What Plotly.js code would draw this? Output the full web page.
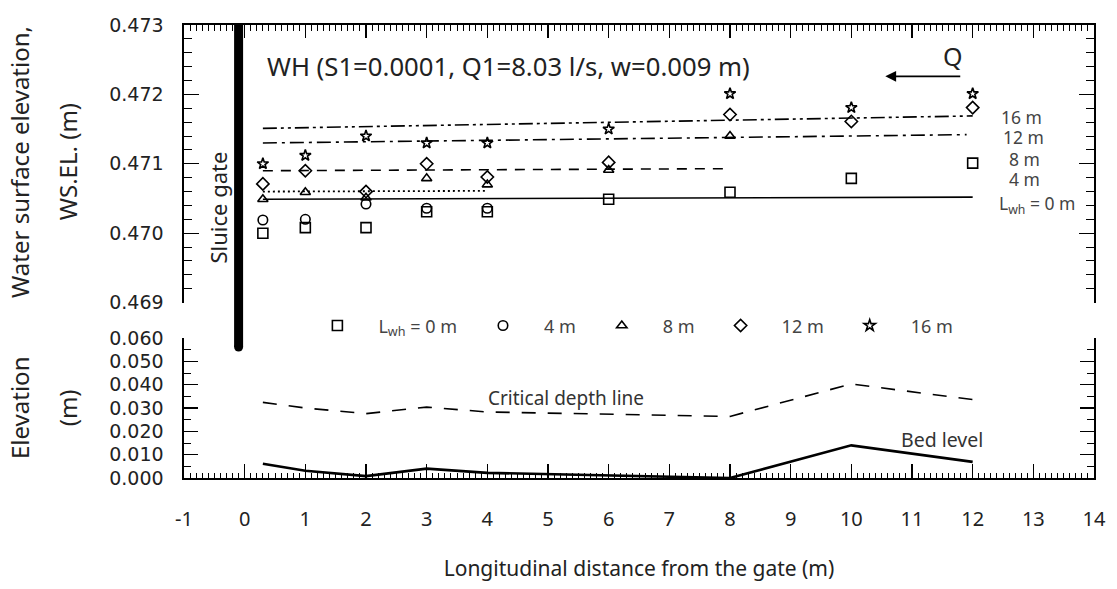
<!DOCTYPE html>
<html>
<head>
<meta charset="utf-8">
<script src="https://cdn.plot.ly/plotly-3.0.1.min.js"></script>
<style>html,body{margin:0;padding:0;background:#fff;}#chart{width:1117px;height:589px;}</style>
</head>
<body>
<div id="chart"></div>
<script>
// ---- Data ----
const xAll = [0.3, 1, 2, 3, 4, 6, 8, 10, 12];
const x4 = [0.3, 1, 2, 3, 4];
const x8 = [0.3, 1, 2, 3, 4, 6, 8];
const ws0 = [0.47000, 0.47008, 0.47008, 0.47031, 0.47031, 0.47049, 0.47059, 0.47079, 0.47101];
const ws4 = [0.47019, 0.47020, 0.47042, 0.47036, 0.47036];
const ws8 = [0.47049, 0.47059, 0.47051, 0.47079, 0.47070, 0.47091, 0.47140];
const ws12 = [0.47071, 0.47090, 0.47060, 0.47100, 0.47081, 0.47102, 0.47171, 0.47161, 0.47181];
const ws16 = [0.47100, 0.47112, 0.47140, 0.47130, 0.47130, 0.47150, 0.47201, 0.47181, 0.47201];

// trend lines (start / end)
const trend0X = [0.3, 12],  trend0Y = [0.47049, 0.47052];
const trend4X = [0.3, 4],   trend4Y = [0.47060, 0.47061];
const trend8X = [0.3, 8],   trend8Y = [0.47090, 0.47093];
const trend12X = [0.3, 11.9], trend12Y = [0.47130, 0.47142];
const trend16X = [0.3, 12], trend16Y = [0.47151, 0.47169];

// bottom panel
const bedX = [0.3, 1, 2, 3, 4, 6, 8, 10, 12];
const bedLevel = [0.0061, 0.0031, 0.0008, 0.0040, 0.0022, 0.0012, 0.0000, 0.0140, 0.0069];
const critDepth = [0.0324, 0.0300, 0.0276, 0.0304, 0.0283, 0.0274, 0.0264, 0.0403, 0.0336];

const seriesNames = ['L<sub>wh</sub> = 0 m', '4 m', '8 m', '12 m', '16 m'];
const rightLabels = ['16 m', '12 m', '8 m', '4 m', 'L<sub>wh</sub> = 0 m'];
const xTicks = [-1,0,1,2,3,4,5,6,7,8,9,10,11,12,13,14];

// ---- Styling ----
const FONT = 'Noto Sans, Open Sans, sans-serif';
const TICKFONT = 'DejaVu Sans, sans-serif';
const black = '#000';
const mk = (sym, size) => ({symbol: sym, size: size, color: black, line: {color: black, width: 1.6}});

const traces = [
  {x: trend0X, y: trend0Y, xaxis: 'x2', yaxis: 'y2', mode: 'lines', line: {color: black, width: 1.6}, showlegend: false, hoverinfo: 'skip'},
  {x: trend4X, y: trend4Y, xaxis: 'x2', yaxis: 'y2', mode: 'lines', line: {color: black, width: 1.8, dash: '2px,3px'}, showlegend: false, hoverinfo: 'skip'},
  {x: trend8X, y: trend8Y, xaxis: 'x2', yaxis: 'y2', mode: 'lines', line: {color: black, width: 1.6, dash: '10px,8px'}, showlegend: false, hoverinfo: 'skip'},
  {x: trend12X, y: trend12Y, xaxis: 'x2', yaxis: 'y2', mode: 'lines', line: {color: black, width: 1.6, dash: '14px,5px,3px,5px'}, showlegend: false, hoverinfo: 'skip'},
  {x: trend16X, y: trend16Y, xaxis: 'x2', yaxis: 'y2', mode: 'lines', line: {color: black, width: 1.6, dash: '14px,4px,3px,4px,3px,4px'}, showlegend: false, hoverinfo: 'skip'},
  {x: xAll, y: ws0, xaxis: 'x2', yaxis: 'y2', mode: 'markers', name: seriesNames[0], marker: mk('square-open', 10)},
  {x: x4, y: ws4, xaxis: 'x2', yaxis: 'y2', mode: 'markers', name: seriesNames[1], marker: mk('circle-open', 9.5)},
  {x: x8, y: ws8, xaxis: 'x2', yaxis: 'y2', mode: 'markers', name: seriesNames[2], marker: mk('triangle-up-open', 9)},
  {x: xAll, y: ws12, xaxis: 'x2', yaxis: 'y2', mode: 'markers', name: seriesNames[3], marker: mk('diamond-open', 9.5)},
  {x: xAll, y: ws16, xaxis: 'x2', yaxis: 'y2', mode: 'markers', name: seriesNames[4], marker: mk('star-open', 8.5)},
  {x: bedX, y: critDepth, xaxis: 'x', yaxis: 'y', mode: 'lines', line: {color: black, width: 1.6, dash: '14px,12px'}, showlegend: false, hoverinfo: 'skip'},
  {x: bedX, y: bedLevel, xaxis: 'x', yaxis: 'y', mode: 'lines', line: {color: black, width: 2.6}, showlegend: false, hoverinfo: 'skip'}
];

const axBase = {
  showgrid: false, zeroline: false, showline: true, linecolor: black, linewidth: 1.6,
  ticks: 'inside', tickcolor: black, tickwidth: 1.2
};

const ann = (o) => Object.assign({showarrow: false, xanchor: 'center', yanchor: 'middle'}, o);

const layout = {
  width: 1117, height: 589,
  margin: {l: 184, r: 23, t: 25, b: 111},
  paper_bgcolor: '#fff', plot_bgcolor: '#fff',
  font: {family: FONT, size: 20, color: '#222'},
  showlegend: true,
  legend: {orientation: 'h', x: 0.1235, y: 0.336, xanchor: 'left', yanchor: 'middle',
           itemwidth: 72, font: {family: FONT, size: 18, color: '#444'}, bgcolor: 'rgba(0,0,0,0)', borderwidth: 0,
           itemclick: false, itemdoubleclick: false},
  xaxis: Object.assign({}, axBase, {
    domain: [0, 1], range: [-1, 14], anchor: 'y', side: 'bottom', mirror: false,
    tickvals: xTicks, ticktext: xTicks.map(String), ticklen: 14,
    minor: {dtick: 0.1, ticks: 'inside', ticklen: 5, tickcolor: black, tickwidth: 1},
    ticklabelstandoff: 22,
    tickfont: {family: FONT, size: 20, color: '#222'},
    title: {text: 'Longitudinal distance from the gate (m)', font: {family: FONT, size: 21, color: '#222'}, standoff: 31}
  }),
  yaxis: Object.assign({}, axBase, {
    domain: [0, 0.309], range: [0, 0.06], anchor: 'x', mirror: 'ticks',
    dtick: 0.01, tickformat: '.3f', ticklen: 14,
    minor: {dtick: 0.005, ticks: 'inside', ticklen: 7, tickcolor: black, tickwidth: 1},
    tickfont: {family: TICKFONT, size: 19, color: '#222'},
    ticklabelstandoff: 15
  }),
  xaxis2: Object.assign({}, axBase, {
    domain: [0, 1], range: [-1, 14], anchor: 'y2', side: 'top', mirror: false, matches: 'x',
    tickvals: xTicks, showticklabels: false, ticklen: 13,
    minor: {dtick: 0.1, ticks: 'inside', ticklen: 6, tickcolor: black, tickwidth: 1}
  }),
  yaxis2: Object.assign({}, axBase, {
    domain: [0.3872, 1], range: [0.469, 0.473], anchor: 'x2', mirror: 'ticks',
    dtick: 0.001, tickformat: '.3f', ticklen: 15,
    minor: {dtick: 0.0002, ticks: 'inside', ticklen: 8, tickcolor: black, tickwidth: 1},
    tickfont: {family: TICKFONT, size: 19, color: '#222'},
    ticklabelstandoff: 15
  }),
  shapes: [
    {type: 'line', xref: 'x', yref: 'paper', x0: -0.1, x1: -0.1, y0: 0.289, y1: 1,
     line: {color: black, width: 9}},
    {type: 'circle', xref: 'x', yref: 'paper', xsizemode: 'pixel', ysizemode: 'pixel',
     xanchor: -0.1, yanchor: 0.289, x0: -4.5, x1: 4.5, y0: -4.5, y1: 4.5,
     fillcolor: black, line: {width: 0}}
  ],
  annotations: [
    ann({xref: 'paper', yref: 'paper', x: -0.18, y: 0.698, text: 'Water surface elevation,', textangle: -90, font: {family: FONT, size: 24, color: '#222'}}),
    ann({xref: 'paper', yref: 'paper', x: -0.128, y: 0.698, text: 'WS.EL. (m)', textangle: -90, font: {family: FONT, size: 24, color: '#222'}}),
    ann({xref: 'paper', yref: 'paper', x: -0.18, y: 0.155, text: 'Elevation', textangle: -90, font: {family: FONT, size: 24, color: '#222'}}),
    ann({xref: 'paper', yref: 'paper', x: -0.128, y: 0.155, text: '(m)', textangle: -90, font: {family: FONT, size: 24, color: '#222'}}),
    ann({xref: 'x2', yref: 'y2', x: 0.34, y: 0.4724, xanchor: 'left', text: 'WH (S1=0.0001, Q1=8.03 l/s, w=0.009 m)', font: {family: FONT, size: 25.7, color: '#222'}}),
    ann({xref: 'x2', yref: 'y2', x: 11.68, y: 0.47255, text: 'Q', font: {family: FONT, size: 25, color: '#222'}}),
    {xref: 'x2', yref: 'y2', x: 10.56, y: 0.47226, ax: 11.82, ay: 0.47226, axref: 'x2', ayref: 'y2', text: '', showarrow: true, arrowhead: 2, arrowsize: 1.2, arrowwidth: 1.8, arrowcolor: black},
    ann({xref: 'x2', yref: 'y2', x: -0.44, y: 0.47037, text: 'Sluice gate', textangle: -90, font: {family: FONT, size: 22, color: '#222'}}),
    ann({xref: 'x2', yref: 'y2', x: 12.81, y: 0.47168, text: rightLabels[0], font: {family: FONT, size: 17.5, color: '#444'}}),
    ann({xref: 'x2', yref: 'y2', x: 12.83, y: 0.47138, text: rightLabels[1], font: {family: FONT, size: 17.5, color: '#444'}}),
    ann({xref: 'x2', yref: 'y2', x: 12.85, y: 0.47107, text: rightLabels[2], font: {family: FONT, size: 17.5, color: '#444'}}),
    ann({xref: 'x2', yref: 'y2', x: 12.85, y: 0.47078, text: rightLabels[3], font: {family: FONT, size: 17.5, color: '#444'}}),
    ann({xref: 'x2', yref: 'y2', x: 13.06, y: 0.47042, text: rightLabels[4], font: {family: FONT, size: 17.5, color: '#444'}}),
    ann({xref: 'x', yref: 'y', x: 5.30, y: 0.0343, text: 'Critical depth line', font: {family: FONT, size: 19, color: '#333'}}),
    ann({xref: 'x', yref: 'y', x: 11.49, y: 0.0167, text: 'Bed level', font: {family: FONT, size: 19.5, color: '#333'}})
  ]
};

Plotly.newPlot('chart', traces, layout, {staticPlot: true, displayModeBar: false});
</script>
</body>
</html>
